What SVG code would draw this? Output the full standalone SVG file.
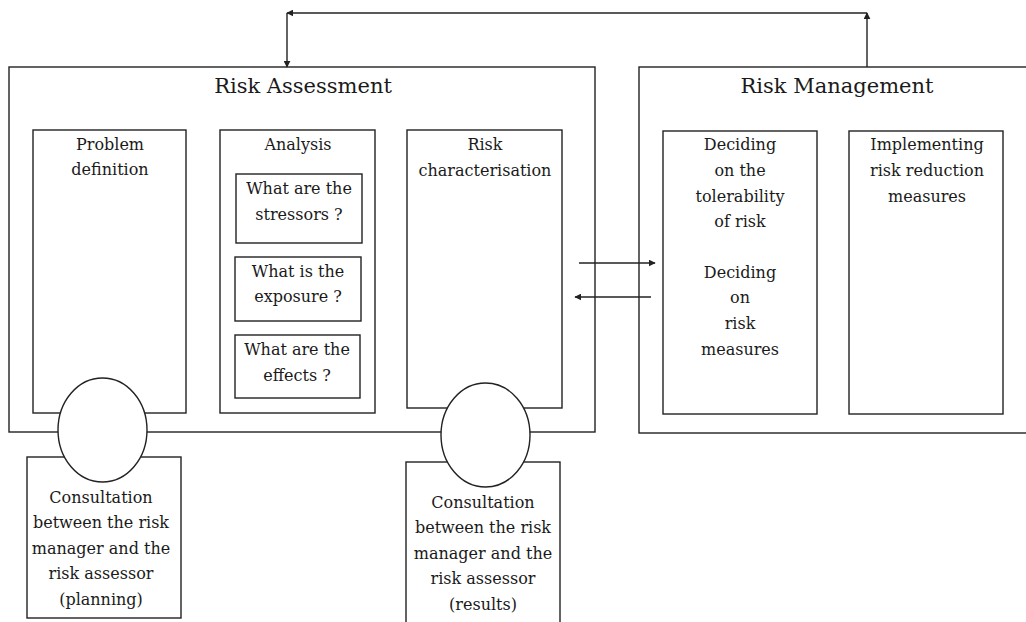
<svg xmlns="http://www.w3.org/2000/svg" width="1026" height="622" viewBox="0 0 1026 622">
<style>
.b{fill:#fff;stroke:#222;stroke-width:1.4}
.c{fill:#fff;stroke:#222;stroke-width:1.4}
.t{font-family:"DejaVu Serif","Liberation Serif",serif;font-size:16px;fill:#1a1a1a;text-anchor:middle}
.h{font-family:"DejaVu Serif","Liberation Serif",serif;font-size:21px;fill:#1a1a1a;text-anchor:middle}
.l{stroke:#222;stroke-width:1.4;fill:none}
</style>
<defs>
<marker id="ah" viewBox="0 0 10 10" refX="9" refY="5" markerWidth="7" markerHeight="7" markerUnits="userSpaceOnUse" orient="auto">
<path d="M0,0 L10,5 L0,10 z" fill="#222"/>
</marker>
</defs>
<rect width="1026" height="622" fill="#fff"/>
<g id="risk-assessment">
<rect class="b" x="9" y="67" width="586" height="365"/>
<text class="h" x="303" y="93">Risk Assessment</text>
</g>
<g id="risk-management">
<rect class="b" x="639" y="67" width="420" height="366"/>
<text class="h" x="837" y="93">Risk Management</text>
</g>
<g id="problem-definition">
<rect class="b" x="33" y="130" width="153" height="283"/>
<text class="t" x="110" y="150">Problem</text>
<text class="t" x="110" y="175">definition</text>
</g>
<g id="analysis">
<rect class="b" x="220" y="130" width="155" height="283"/>
<text class="t" x="298" y="150">Analysis</text>
</g>
<g id="stressors">
<rect class="b" x="236" y="174" width="126" height="69"/>
<text class="t" x="299" y="194">What are the</text>
<text class="t" x="299" y="220">stressors ?</text>
</g>
<g id="exposure">
<rect class="b" x="235" y="257" width="126" height="64"/>
<text class="t" x="298" y="277">What is the</text>
<text class="t" x="298" y="302">exposure ?</text>
</g>
<g id="effects">
<rect class="b" x="235" y="335" width="125" height="63"/>
<text class="t" x="297" y="355">What are the</text>
<text class="t" x="297" y="381">effects ?</text>
</g>
<g id="risk-characterisation">
<rect class="b" x="407" y="130" width="155" height="278"/>
<text class="t" x="485" y="150">Risk</text>
<text class="t" x="485" y="176">characterisation</text>
</g>
<g id="deciding">
<rect class="b" x="663" y="131" width="154" height="283"/>
<text class="t" x="740" y="150">Deciding</text>
<text class="t" x="740" y="176">on the</text>
<text class="t" x="740" y="202">tolerability</text>
<text class="t" x="740" y="227">of risk</text>
<text class="t" x="740" y="278">Deciding</text>
<text class="t" x="740" y="303">on</text>
<text class="t" x="740" y="329">risk</text>
<text class="t" x="740" y="355">measures</text>
</g>
<g id="implementing">
<rect class="b" x="849" y="131" width="154" height="283"/>
<text class="t" x="927" y="150">Implementing</text>
<text class="t" x="927" y="176">risk reduction</text>
<text class="t" x="927" y="202">measures</text>
</g>
<g id="consultation-planning">
<rect class="b" x="27" y="457" width="154" height="161"/>
<ellipse class="c" cx="102.5" cy="430" rx="44.5" ry="52"/>
<text class="t" x="101" y="503">Consultation</text>
<text class="t" x="101" y="528">between the risk</text>
<text class="t" x="101" y="554">manager and the</text>
<text class="t" x="101" y="579">risk assessor</text>
<text class="t" x="101" y="605">(planning)</text>
</g>
<g id="consultation-results">
<rect class="b" x="406" y="462" width="154" height="170"/>
<ellipse class="c" cx="485.5" cy="435" rx="44.5" ry="52"/>
<text class="t" x="483" y="508">Consultation</text>
<text class="t" x="483" y="533">between the risk</text>
<text class="t" x="483" y="559">manager and the</text>
<text class="t" x="483" y="584">risk assessor</text>
<text class="t" x="483" y="610">(results)</text>
</g>
<g id="connectors">
<line class="l" x1="867" y1="67" x2="867" y2="13" marker-end="url(#ah)"/>
<line class="l" x1="867" y1="13" x2="287" y2="13" marker-end="url(#ah)"/>
<line class="l" x1="287" y1="13" x2="287" y2="67" marker-end="url(#ah)"/>
<line class="l" x1="579" y1="263" x2="655" y2="263" marker-end="url(#ah)"/>
<line class="l" x1="651" y1="297" x2="575" y2="297" marker-end="url(#ah)"/>
</g>
</svg>
